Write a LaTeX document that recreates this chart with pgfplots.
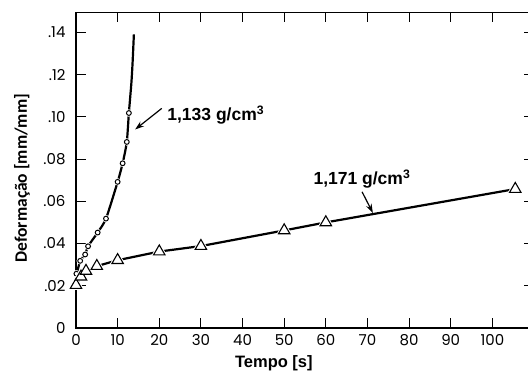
\documentclass[border=0pt]{standalone}
\usepackage{pgfplots}
\pgfplotsset{compat=1.18}
\usepackage{fontspec}
\setmainfont{Liberation Sans}
\newfontfamily\tickfont{Poppins}
\newfontfamily\ylabfont{Carlito}
\usetikzlibrary{arrows.meta}
\begin{document}
\begin{tikzpicture}
\useasboundingbox (-76bp,-53bp) rectangle (452bp,328bp);
\begin{axis}[
  name=ax, at={(0,0)}, anchor=south west,
  scale only axis, width=458bp, height=315.5bp,
  xmin=0, xmax=110, ymin=0, ymax=0.1494,
  axis line style={line width=1.1bp},
  xtick={0,10,20,30,40,50,60,70,80,90,100},
  xticklabels={0,10,20,30,40,50,60,70,80,90,100},
  ytick={0,0.02,0.04,0.06,0.08,0.10,0.12,0.14},
  yticklabels={0,.02,.04,.06,.08,.10,.12,.14},
  tick align=inside, major tick length=10bp,
  tick style={line width=1.1bp, black},
  /pgf/number format/assume math mode=true,
  ticklabel style={font=\tickfont\fontsize{15bp}{17bp}\selectfont},
  xticklabel style={yshift=-3bp},
  yticklabel style={xshift=-7bp},
  xlabel={Tempo [s]},
  ylabel={Deformação [mm/mm]},
  xlabel style={font=\bfseries\fontsize{16.5bp}{19bp}\selectfont, at={(rel axis cs:0.432,0)}, anchor=center, yshift=-35bp},
  ylabel style={font=\ylabfont\bfseries\fontsize{17.5bp}{20bp}\selectfont, at={(rel axis cs:-0.118,0.475)}, anchor=center},
  clip=false,
]
% 1,133 g/cm3 curve
\addplot[line width=2.2bp, smooth, tension=0.4] coordinates {
 (0,0.024) (1.0,0.0318) (2.2,0.0348) (2.9,0.0387) (5.2,0.0452) (7.2,0.0518)
 (10.0,0.0692) (11.2,0.078) (12.2,0.0881) (12.7,0.1018) (13.3,0.116) (13.6,0.126) (13.9,0.139)};
\addplot[only marks, mark=*, mark size=3.4bp, mark options={draw=white, fill=white}] coordinates {
 (0.1,0.0257) (1.0,0.0318) (2.2,0.0348) (2.9,0.0387) (5.2,0.0452) (7.2,0.0518)
 (10.0,0.0692) (11.2,0.078) (12.2,0.0881) (12.7,0.1018)};
\addplot[only marks, mark=*, mark size=2.4bp, mark options={draw=black, fill=white, line width=1bp}] coordinates {
 (0.1,0.0257) (1.0,0.0318) (2.2,0.0348) (2.9,0.0387) (5.2,0.0452) (7.2,0.0518)
 (10.0,0.0692) (11.2,0.078) (12.2,0.0881) (12.7,0.1018)};
% 1,171 g/cm3 curve
\addplot[line width=2.2bp] coordinates {
 (0,0.0203) (1.2,0.0243) (2.4,0.027) (5,0.0293) (10,0.0321) (20,0.0362) (30,0.0388)
 (50,0.0462) (60,0.050) (105.5,0.0658)};
\addplot[only marks, mark=triangle*, mark size=6.6bp, mark options={draw=white, fill=white, line width=3bp}] coordinates {
 (0,0.0203) (1.2,0.0243) (2.4,0.027) (5,0.0293) (10,0.0321) (20,0.0362) (30,0.0388)
 (50,0.0462) (60,0.050) (105.5,0.0658)};
\addplot[only marks, mark=triangle*, mark size=6.6bp, mark options={draw=black, fill=white, line width=1.1bp}] coordinates {
 (0,0.0203) (1.2,0.0243) (2.4,0.027) (5,0.0293) (10,0.0321) (20,0.0362) (30,0.0388)
 (50,0.0462) (60,0.050) (105.5,0.0658)};
% annotations
\node[anchor=west, font=\bfseries\fontsize{17.5bp}{20bp}\selectfont, inner sep=0pt] at (axis cs:21.9,0.1009) {1,133 g/cm\textsuperscript{3}};
\draw[-{Stealth[length=9bp,width=6bp]}, line width=1.2bp] (axis cs:20.6,0.104) -- (axis cs:14.2,0.094);
\node[anchor=west, font=\bfseries\fontsize{17.5bp}{20bp}\selectfont, inner sep=0pt] at (axis cs:57.0,0.0704) {1,171 g/cm\textsuperscript{3}};
\draw[-{Stealth[length=9bp,width=6bp]}, line width=1.2bp] (axis cs:68.7,0.0645) -- (axis cs:71.3,0.0545);
\end{axis}
\end{tikzpicture}
\end{document}
